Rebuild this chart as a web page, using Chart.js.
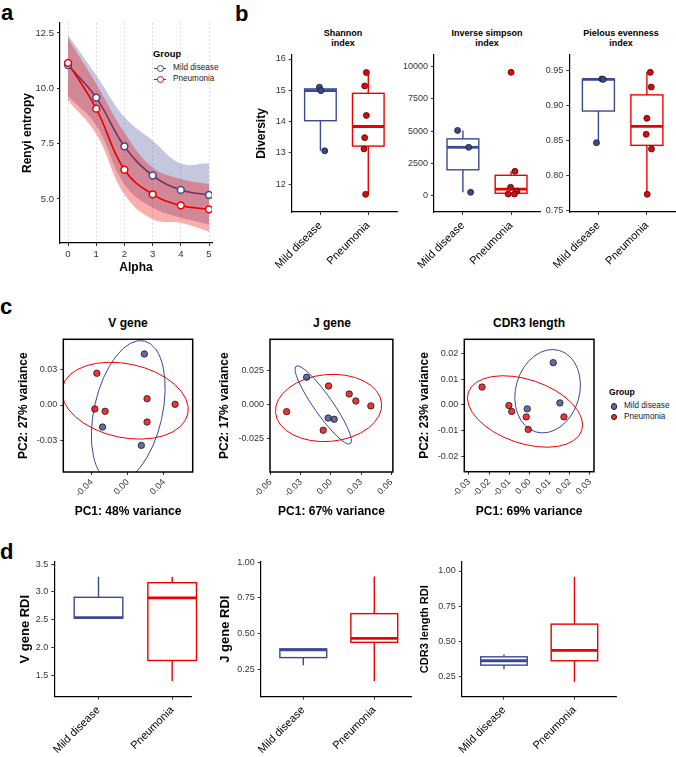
<!DOCTYPE html>
<html lang="en">
<head>
<meta charset="utf-8">
<title>Repertoire diversity</title>
<script src="https://cdn.jsdelivr.net/npm/chart.js@4.4.1/dist/chart.umd.min.js"></script>
<style>
  html, body { margin: 0; padding: 0; background: #fff; }
  #lienzo { position: relative; width: 676px; height: 757px; overflow: hidden;
            font-family: "Liberation Sans", Arial, Helvetica, sans-serif; color: #000; }
  #lienzo canvas { position: absolute; }
  .letra { position: absolute; font-weight: bold; font-size: 22px; line-height: 22px; }
  .tit { position: absolute; font-weight: bold; text-align: center; white-space: nowrap; transform: translateX(-50%); }
  .tit.peq { font-size: 9px; line-height: 10px; }
  .tit.gr { font-size: 12px; line-height: 14px; }
  .ley { position: absolute; white-space: nowrap; color: #1a1a1a; font-size: 8.2px; line-height: 10px; }
  .ley.cab { font-weight: bold; color: #000; line-height: 11px; }
  .raya { position: absolute; height: 0; width: 12px; }
  .bola { position: absolute; box-sizing: border-box; border-radius: 50%; }
</style>
</head>
<body>
<div id="lienzo">
  <div class="letra" style="left:1px; top:2px;">a</div>
  <div class="letra" style="left:235px; top:3px;">b</div>
  <div class="letra" style="left:0px; top:296px;">c</div>
  <div class="letra" style="left:0px; top:541px;">d</div>

  <div class="tit peq" style="left:343px; top:28px;">Shannon<br>index</div>
  <div class="tit peq" style="left:487px; top:28px;">Inverse simpson<br>index</div>
  <div class="tit peq" style="left:621px; top:28px;">Pielous evenness<br>index</div>

  <div class="tit gr" style="left:128px; top:316px;">V gene</div>
  <div class="tit gr" style="left:332px; top:316px;">J gene</div>
  <div class="tit gr" style="left:529px; top:316px;">CDR3 length</div>

  <!-- leyenda panel a -->
  <div class="ley cab" style="left:153px; top:48px; font-size:9.4px;">Group</div>
  <div class="raya" style="left:154px; top:67.5px; border-top:1.5px solid #3B4992;"></div>
  <div class="bola" style="left:156.5px; top:64.8px; width:7px; height:7px; border:1.5px solid #3B4992; background:#fff;"></div>
  <div class="ley" style="left:173px; top:63.3px;">Mild disease</div>
  <div class="raya" style="left:154px; top:78.5px; border-top:1.5px solid #EE0000;"></div>
  <div class="bola" style="left:156.5px; top:75.8px; width:7px; height:7px; border:1.5px solid #EE0000; background:#fff;"></div>
  <div class="ley" style="left:173px; top:74.3px;">Pneumonia</div>

  <!-- leyenda panel c -->
  <div class="ley cab" style="left:609px; top:387px; font-size:8.6px;">Group</div>
  <div class="bola" style="left:610.7px; top:403px; width:6.6px; height:6.6px; border:0.8px solid #1a1a1a; background:#626DA8;"></div>
  <div class="ley" style="left:624px; top:401.3px;">Mild disease</div>
  <div class="bola" style="left:610.7px; top:413.7px; width:6.6px; height:6.6px; border:0.8px solid #1a1a1a; background:#F13333;"></div>
  <div class="ley" style="left:624px; top:412px;">Pneumonia</div>
</div>

<script>
const grupos = ['Mild disease', 'Pneumonia'];
const AZUL = '#3B4992';
const ROJO = '#EE0000';

// panel a: entropia de Renyi
const alfa = [0, 1, 2, 3, 4, 5];
const renyiLeve = [11.05, 9.58, 7.38, 6.06, 5.41, 5.18];
const renyiNeumonia = [11.15, 9.08, 6.32, 5.21, 4.71, 4.53];
const bandaLeveSup = [12.41, 10.59, 8.70, 7.64, 6.60, 6.61];
const bandaLeveInf = [9.64, 8.32, 5.67, 4.61, 4.15, 3.85];
const bandaNeuSup = [12.26, 10.21, 8.00, 6.42, 5.90, 5.67];
const bandaNeuInf = [9.45, 7.94, 5.21, 4.08, 3.92, 3.52];
const marcasRenyi = [5, 7.5, 10, 12.5];

// panel b: indices de diversidad (puntos por muestra)
const shannonLeve = [15.10, 14.99, 13.07];
const shannonNeu = [15.57, 15.14, 14.20, 13.49, 13.13, 11.68];
const simpsonLeve = [5060, 3752, 264];
const simpsonNeu = [9566, 1891, 651, 364, 132, 132];
const pielouLeve = [0.9376, 0.9371, 0.8466];
const pielouNeu = [0.9471, 0.9261, 0.8814, 0.8586, 0.8376, 0.7729];
// desplazamiento horizontal (jitter) de cada punto
const jitShannonLeve = [-0.02, 0.01, 0.09];
const jitShannonNeu = [-0.04, -0.075, -0.04, -0.075, -0.09, -0.055];
const jitSimpsonLeve = [-0.11, 0.12, 0.16];
const jitSimpsonNeu = [0, 0.08, -0.01, 0.12, -0.06, 0.07];
const jitPielouLeve = [0.07, 0.1, -0.04];
const jitPielouNeu = [0.07, 0.09, 0, -0.015, 0.095, 0.006];

// panel c: PCA
const vLeveX = [0.0183, -0.028, 0.015];
const vLeveY = [0.0437, -0.0189, -0.0346];
const vNeuX = [-0.0343, -0.0365, -0.0251, 0.0213, 0.0213, 0.0523];
const vNeuY = [0.0272, -0.0034, -0.0054, 0.0054, -0.0146, 0.0006];
const jLeveX = [-0.0241, -0.0027, 0.0033];
const jLeveY = [0.0204, -0.0096, -0.0105];
const jNeuX = [-0.044, -0.0023, 0.0182, 0.0248, 0.0397, -0.0076];
const jNeuY = [-0.0049, 0.014, 0.0081, 0.0029, -0.0007, -0.0186];
const cLeveX = [0.0118, 0.0151, -0.0011];
const cLeveY = [0.0163, 0.0008, -0.0015];
const cNeuX = [-0.0235, -0.0102, -0.0088, -0.0016, -0.0006, 0.0171];
const cNeuY = [0.0069, -0.0002, -0.0025, -0.0046, -0.0094, -0.0046];
// elipses: [centro x, centro y, eje1 dx, eje1 dy, eje2 dx, eje2 dy]
const elipseVLeve = [0.0005, -0.0057, 0.0177, 0.0606, 0.0368, -0.0066];
const elipseVNeu = [-0.003, 0.0037, 0.0694, -0.0114, -0.0085, -0.0309];
const elipseJLeve = [-0.0076, 0, 0.0270, -0.0285, -0.0076, -0.0040];
const elipseJNeu = [-0.0023, -0.0022, 0.0527, 0.0035, 0.0030, -0.0245];
const elipseCLeve = [0.009, 0.0053, 0.0058, 0.0157, 0.0152, -0.0034];
const elipseCNeu = [-0.0022, -0.0025, 0.0281, -0.0074, -0.0051, -0.0116];

// panel d: RDI, [min, q1, mediana, q3, max]
const rdiVLeve = [2.53, 2.53, 2.542, 2.904, 3.273];
const rdiVNeu = [1.404, 1.773, 2.893, 3.166, 3.273];
const rdiJLeve = [0.278, 0.332, 0.386, 0.393, 0.393];
const rdiJNeu = [0.168, 0.439, 0.467, 0.640, 0.900];
const rdiCLeve = [0.302, 0.332, 0.363, 0.391, 0.408];
const rdiCNeu = [0.214, 0.363, 0.437, 0.623, 0.960];

Chart.defaults.font.family = '"Liberation Sans", Arial, Helvetica, sans-serif';

function crearLienzo(caja) {
  const c = document.createElement('canvas');
  c.width = caja.w;
  c.height = caja.h;
  c.style.left = caja.x + 'px';
  c.style.top = caja.y + 'px';
  c.style.width = caja.w + 'px';
  c.style.height = caja.h + 'px';
  document.getElementById('lienzo').appendChild(c);
  return c;
}

function relleno(caja, area) {
  return { top: area.t - caja.y, right: caja.x + caja.w - area.r, left: 0, bottom: 0 };
}

function ejeY(caja, area, o) {
  const tam = o.tTam || 12;
  return {
    type: 'linear', position: 'left', min: o.min, max: o.max,
    afterFit: s => { s.width = area.l - caja.x; },
    afterBuildTicks: s => { s.ticks = o.marcas.map(v => ({ value: v })); },
    ticks: { color: '#333', font: { size: o.tick || 9 }, padding: 3, callback: v => o.fmt(v) },
    grid: { drawOnChartArea: false, tickLength: 3, tickColor: '#333', tickWidth: 1 },
    border: { display: o.borde !== false, color: '#000', width: 1.2 },
    title: {
      display: !!o.titulo, text: o.titulo || '', color: '#000',
      font: { size: tam, weight: 'bold' },
      padding: { top: o.tx != null ? o.tx - caja.x - tam * 0.6 : 0, bottom: 0 }
    }
  };
}

function ejeX(caja, area, o) {
  const tam = o.tTam || 12;
  return {
    type: 'linear', position: 'bottom', min: o.min, max: o.max,
    afterFit: s => { s.height = caja.y + caja.h - area.b; },
    afterBuildTicks: s => { s.ticks = o.marcas.map(v => ({ value: v })); },
    ticks: {
      color: o.tickColor || '#333', font: { size: o.tick || 9 }, padding: o.pad || 3,
      autoSkip: false, minRotation: o.giro || 0, maxRotation: o.giro || 0, callback: v => o.fmt(v)
    },
    grid: { drawOnChartArea: !!o.rejilla, color: '#c8c8c8', lineWidth: 0.8, tickLength: 3, tickColor: '#333', tickWidth: 1 },
    border: { display: o.borde !== false, color: '#000', width: 1.2, dash: o.rejilla ? [1.5, 2.5] : [] },
    title: {
      display: !!o.titulo, text: o.titulo || '', color: '#000',
      font: { size: tam, weight: 'bold' },
      padding: { top: 0, bottom: o.ty != null ? caja.y + caja.h - o.ty - tam * 0.6 : 0 }
    }
  };
}

const sinLeyenda = { legend: { display: false }, tooltip: { enabled: false } };

// cuantil tipo 7 (el de R)
function cuantil(ord, p) {
  const h = (ord.length - 1) * p;
  const lo = Math.floor(h);
  const hi = Math.min(lo + 1, ord.length - 1);
  return ord[lo] + (h - lo) * (ord[hi] - ord[lo]);
}

function resumen(valores) {
  const ord = [...valores].sort((a, b) => a - b);
  const q1 = cuantil(ord, 0.25), med = cuantil(ord, 0.5), q3 = cuantil(ord, 0.75);
  const rango = q3 - q1;
  const dentro = ord.filter(v => v >= q1 - 1.5 * rango && v <= q3 + 1.5 * rango);
  return [dentro[0], q1, med, q3, dentro[dentro.length - 1]];
}

function pluginCajas(cajas, ancho) {
  return {
    id: 'cajas',
    beforeDatasetsDraw(chart) {
      const { ctx, scales: { x, y } } = chart;
      ctx.save();
      cajas.forEach(c => {
        const [mn, q1, med, q3, mx] = c.st;
        const xc = x.getPixelForValue(c.pos);
        const x0 = x.getPixelForValue(c.pos - ancho / 2);
        const x1 = x.getPixelForValue(c.pos + ancho / 2);
        ctx.strokeStyle = c.color;
        ctx.lineWidth = 1.4;
        // bigotes
        ctx.beginPath();
        ctx.moveTo(xc, y.getPixelForValue(q3));
        ctx.lineTo(xc, y.getPixelForValue(mx));
        ctx.moveTo(xc, y.getPixelForValue(q1));
        ctx.lineTo(xc, y.getPixelForValue(mn));
        ctx.stroke();
        // caja
        const yt = y.getPixelForValue(q3), yb = y.getPixelForValue(q1);
        ctx.fillStyle = '#fff';
        ctx.fillRect(x0, yt, x1 - x0, yb - yt);
        ctx.strokeRect(x0, yt, x1 - x0, yb - yt);
        // mediana
        ctx.lineWidth = 2.8;
        ctx.beginPath();
        ctx.moveTo(x0, y.getPixelForValue(med));
        ctx.lineTo(x1, y.getPixelForValue(med));
        ctx.stroke();
      });
      ctx.restore();
    }
  };
}

function pluginElipses(lista) {
  return {
    id: 'elipses',
    beforeDatasetsDraw(chart) {
      const { ctx, chartArea: a, scales: { x, y } } = chart;
      ctx.save();
      ctx.beginPath();
      ctx.rect(a.left, a.top, a.right - a.left, a.bottom - a.top);
      ctx.clip();
      lista.forEach(([e, color]) => {
        const cx = x.getPixelForValue(e[0]), cy = y.getPixelForValue(e[1]);
        const ax = x.getPixelForValue(e[0] + e[2]) - cx, ay = y.getPixelForValue(e[1] + e[3]) - cy;
        const bx = x.getPixelForValue(e[0] + e[4]) - cx, by = y.getPixelForValue(e[1] + e[5]) - cy;
        ctx.save();
        ctx.beginPath();
        ctx.transform(ax, ay, bx, by, cx, cy);
        ctx.arc(0, 0, 1, 0, Math.PI * 2);
        ctx.restore();
        ctx.strokeStyle = color;
        ctx.lineWidth = 1;
        ctx.stroke();
      });
      ctx.restore();
    }
  };
}

const pluginMarco = {
  id: 'marco',
  afterDatasetsDraw(chart) {
    const { ctx, chartArea: a } = chart;
    ctx.save();
    ctx.strokeStyle = '#000';
    ctx.lineWidth = 1.5;
    ctx.strokeRect(a.left, a.top, a.right - a.left, a.bottom - a.top);
    ctx.restore();
  }
};

function graficoRenyi() {
  const caja = { x: 0, y: 10, w: 222, h: 270 };
  const area = { l: 60, t: 23, r: 212, b: 243 };
  const pares = ys => alfa.map((a, i) => ({ x: a, y: ys[i] }));
  const banda = (ys, relleno, color, orden) => ({
    data: pares(ys), fill: relleno, backgroundColor: color, borderColor: 'transparent',
    borderWidth: 0, pointRadius: 0, order: orden
  });
  const puntos = (ys, color, orden) => ({
    data: pares(ys), showLine: false, pointRadius: 3.4, pointBackgroundColor: '#fff',
    pointBorderColor: color, pointBorderWidth: 1.5, order: orden
  });
  new Chart(crearLienzo(caja), {
    type: 'line',
    data: {
      datasets: [
        banda(bandaLeveSup, '+1', 'rgba(59,73,146,0.3)', 10),
        banda(bandaLeveInf, false, 'transparent', 10),
        { data: pares(renyiLeve), borderColor: AZUL, borderWidth: 1.6, pointRadius: 0, fill: false, order: 8 },
        banda(bandaNeuSup, '+1', 'rgba(238,0,0,0.32)', 6),
        banda(bandaNeuInf, false, 'transparent', 6),
        { data: pares(renyiNeumonia), borderColor: ROJO, borderWidth: 1.6, pointRadius: 0, fill: false, order: 4 },
        puntos(renyiLeve, AZUL, 2),
        puntos(renyiNeumonia, ROJO, 1)
      ]
    },
    options: {
      responsive: false, animation: false,
      layout: { padding: relleno(caja, area), autoPadding: false },
      elements: { line: { tension: 0.4 } },
      scales: {
        x: ejeX(caja, area, { min: -0.284, max: 5.106, marcas: alfa, fmt: v => String(v), tick: 9.5, pad: 3,
                             rejilla: true, titulo: 'Alpha', ty: 268 }),
        y: ejeY(caja, area, { min: 3.01, max: 12.95, marcas: marcasRenyi, fmt: v => v.toFixed(1), tick: 9.5,
                             titulo: 'Renyi entropy', tx: 28 })
      },
      plugins: sinLeyenda
    }
  });
}

function graficoCaja(caja, area, o) {
  const conjuntos = (o.puntos || []).map(p => ({
    data: p.valores.map((v, i) => ({ x: p.pos + p.jit[i], y: v })),
    pointRadius: 3, pointBackgroundColor: p.color, pointBorderColor: '#1a1a1a', pointBorderWidth: 0.8
  }));
  new Chart(crearLienzo(caja), {
    type: 'scatter',
    data: { datasets: conjuntos },
    options: {
      responsive: false, animation: false,
      layout: { padding: relleno(caja, area), autoPadding: false },
      scales: {
        x: ejeX(caja, area, { min: 0.4, max: o.xmax || 2.6, marcas: [1, 2], fmt: v => grupos[v - 1],
                             giro: 45, tick: 11, tickColor: '#000', pad: 4 }),
        y: ejeY(caja, area, { min: o.min, max: o.max, marcas: o.marcas, fmt: o.fmt,
                             titulo: o.titulo, tx: o.tx, tTam: o.tTam })
      },
      plugins: sinLeyenda
    },
    plugins: [pluginCajas(o.cajas, 0.66)]
  });
}

function graficoPCA(caja, area, o) {
  const serie = (xs, ys, color) => ({
    data: xs.map((v, i) => ({ x: v, y: ys[i] })),
    pointRadius: 3.2, pointBackgroundColor: color, pointBorderColor: '#1a1a1a', pointBorderWidth: 0.8
  });
  new Chart(crearLienzo(caja), {
    type: 'scatter',
    data: { datasets: [serie(o.lx, o.ly, 'rgba(59,73,146,0.8)'), serie(o.nx, o.ny, 'rgba(238,0,0,0.8)')] },
    options: {
      responsive: false, animation: false,
      layout: { padding: relleno(caja, area), autoPadding: false },
      scales: {
        x: ejeX(caja, area, { min: o.xmin, max: o.xmax, marcas: o.xm, fmt: v => v.toFixed(2), giro: 45,
                             pad: 2, borde: false, titulo: o.xt, ty: 512 }),
        y: ejeY(caja, area, { min: o.ymin, max: o.ymax, marcas: o.ym, fmt: v => v.toFixed(o.yd), borde: false,
                             titulo: o.yt, tx: o.tx })
      },
      plugins: sinLeyenda
    },
    plugins: [pluginElipses(o.elipses), pluginMarco]
  });
}

window.onload = () => {
  graficoRenyi();

  // panel b
  graficoCaja({ x: 240, y: 45, w: 162, h: 240 }, { l: 291.7, t: 55, r: 397, b: 212 }, {
    min: 11.116, max: 16.128, marcas: [12, 13, 14, 15, 16], fmt: v => String(v),
    titulo: 'Diversity', tx: 262,
    cajas: [{ pos: 1, st: resumen(shannonLeve), color: AZUL }, { pos: 2, st: resumen(shannonNeu), color: ROJO }],
    puntos: [{ pos: 1, valores: shannonLeve, jit: jitShannonLeve, color: AZUL },
             { pos: 2, valores: shannonNeu, jit: jitShannonNeu, color: ROJO }]
  });
  graficoCaja({ x: 398, y: 45, w: 146, h: 240 }, { l: 434, t: 55, r: 540, b: 212 }, {
    min: -1264, max: 10907, marcas: [0, 2500, 5000, 7500, 10000], fmt: v => String(v),
    cajas: [{ pos: 1, st: resumen(simpsonLeve), color: AZUL }, { pos: 2, st: resumen(simpsonNeu), color: ROJO }],
    puntos: [{ pos: 1, valores: simpsonLeve, jit: jitSimpsonLeve, color: AZUL },
             { pos: 2, valores: simpsonNeu, jit: jitSimpsonNeu, color: ROJO }]
  });
  graficoCaja({ x: 533, y: 45, w: 146, h: 240 }, { l: 569.3, t: 55, r: 676, b: 212 }, {
    min: 0.7476, max: 0.9719, marcas: [0.75, 0.8, 0.85, 0.9, 0.95], fmt: v => v.toFixed(2),
    cajas: [{ pos: 1, st: resumen(pielouLeve), color: AZUL }, { pos: 2, st: resumen(pielouNeu), color: ROJO }],
    puntos: [{ pos: 1, valores: pielouLeve, jit: jitPielouLeve, color: AZUL },
             { pos: 2, valores: pielouNeu, jit: jitPielouNeu, color: ROJO }]
  });

  // panel c
  graficoPCA({ x: 0, y: 330, w: 200, h: 192 }, { l: 63.3, t: 339.3, r: 192.7, b: 472 }, {
    lx: vLeveX, ly: vLeveY, nx: vNeuX, ny: vNeuY,
    xmin: -0.0714, xmax: 0.0718, xm: [-0.04, 0, 0.04], ymin: -0.0574, ymax: 0.0563, ym: [-0.03, 0, 0.03], yd: 2,
    xt: 'PC1: 48% variance', yt: 'PC2: 27% variance', tx: 24,
    elipses: [[elipseVLeve, AZUL], [elipseVNeu, ROJO]]
  });
  graficoPCA({ x: 205, y: 330, w: 196, h: 192 }, { l: 270, t: 339.3, r: 393.3, b: 472 }, {
    lx: jLeveX, ly: jLeveY, nx: jNeuX, ny: jNeuY,
    xmin: -0.0605, xmax: 0.0616, xm: [-0.06, -0.03, 0, 0.03, 0.06], ymin: -0.0493, ymax: 0.0483,
    ym: [-0.025, 0, 0.025], yd: 3,
    xt: 'PC1: 67% variance', yt: 'PC2: 17% variance', tx: 225,
    elipses: [[elipseJLeve, AZUL], [elipseJNeu, ROJO]]
  });
  graficoPCA({ x: 405, y: 330, w: 197, h: 192 }, { l: 464.3, t: 339.3, r: 594, b: 471.7 }, {
    lx: cLeveX, ly: cLeveY, nx: cNeuX, ny: cNeuY,
    xmin: -0.0323, xmax: 0.032, xm: [-0.03, -0.02, -0.01, 0, 0.01, 0.02, 0.03], ymin: -0.0257, ymax: 0.0253,
    ym: [-0.02, -0.01, 0, 0.01, 0.02], yd: 2,
    xt: 'PC1: 69% variance', yt: 'PC2: 23% variance', tx: 425,
    elipses: [[elipseCLeve, AZUL], [elipseCNeu, ROJO]]
  });

  // panel d
  graficoCaja({ x: 0, y: 550, w: 200, h: 207 }, { l: 54.3, t: 561.7, r: 191.7, b: 696.7 }, {
    min: 1.124, max: 3.542, xmax: 2.265, marcas: [1.5, 2, 2.5, 3, 3.5], fmt: v => v.toFixed(1),
    titulo: 'V gene RDI', tx: 25, tTam: 13,
    cajas: [{ pos: 1, st: rdiVLeve, color: AZUL }, { pos: 2, st: rdiVNeu, color: ROJO }]
  });
  graficoCaja({ x: 205, y: 550, w: 212, h: 207 }, { l: 260.7, t: 561.7, r: 411.7, b: 696.7 }, {
    min: 0.058, max: 1.004, xmax: 2.527, marcas: [0.25, 0.5, 0.75, 1], fmt: v => v.toFixed(2),
    titulo: 'J gene RDI', tx: 225, tTam: 13,
    cajas: [{ pos: 1, st: rdiJLeve, color: AZUL }, { pos: 2, st: rdiJNeu, color: ROJO }]
  });
  graficoCaja({ x: 410, y: 550, w: 212, h: 207 }, { l: 461.7, t: 561.7, r: 616.7, b: 696.7 }, {
    min: 0.108, max: 1.066, marcas: [0.25, 0.5, 0.75, 1], fmt: v => v.toFixed(2),
    titulo: 'CDR3 length RDI', tx: 425, tTam: 11,
    cajas: [{ pos: 1, st: rdiCLeve, color: AZUL }, { pos: 2, st: rdiCNeu, color: ROJO }]
  });
};
</script>
</body>
</html>
